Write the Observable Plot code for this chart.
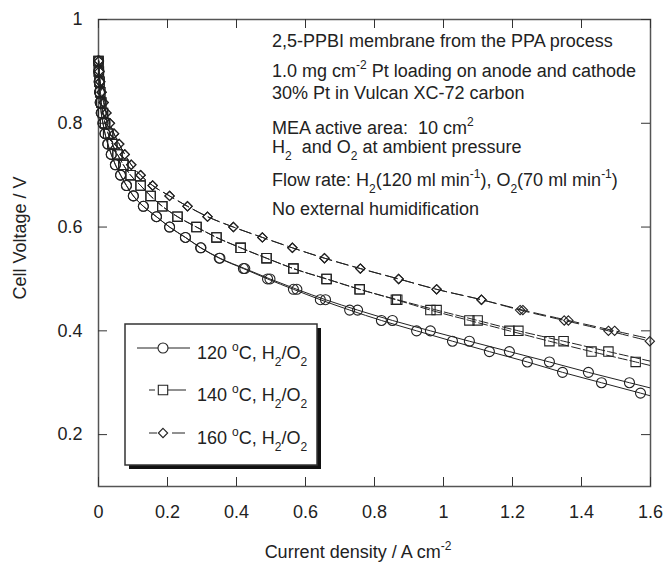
<!DOCTYPE html>
<html><head><meta charset="utf-8">
<script src="https://cdn.jsdelivr.net/npm/d3@7"></script>
<script src="https://cdn.jsdelivr.net/npm/@observablehq/plot@0.6"></script>
<style>
body{margin:0;background:#fff;}
#chart svg{display:block;}
</style></head><body><div id="chart"></div>
<script>
// ---- data ----
const voltage = [0.92,0.90,0.88,0.86,0.84,0.82,0.80,0.78,0.76,0.74,0.72,0.70,0.68,0.66,0.64,0.62,0.60,0.58,0.56,0.54,0.52,0.50,0.48,0.46,0.44,0.42,0.40,0.38,0.36,0.34,0.32,0.30,0.28,0.26];
const i120a = [0.000,0.001,0.002,0.003,0.005,0.008,0.013,0.019,0.027,0.037,0.049,0.064,0.081,0.101,0.130,0.168,0.206,0.252,0.297,0.352,0.424,0.497,0.575,0.658,0.751,0.852,0.962,1.075,1.191,1.307,1.420,1.539,1.660,null];
const i120b = [0.000,0.001,0.002,0.003,0.005,0.008,0.013,0.019,0.027,0.037,0.049,0.064,0.081,0.101,0.130,0.168,0.206,0.252,0.296,0.350,0.420,0.490,0.565,0.643,0.728,0.820,0.922,1.026,1.133,1.243,1.345,1.458,1.571,1.680];
const i140a = [0.000,0.001,0.003,0.005,0.008,0.013,0.019,0.028,0.040,0.055,0.072,0.093,0.122,0.151,0.185,0.229,0.284,0.342,0.412,0.487,0.565,0.661,0.757,0.866,0.980,1.099,1.217,1.348,1.478,1.610,null,null,null,null];
const i140b = [0.000,0.001,0.003,0.005,0.008,0.013,0.019,0.028,0.040,0.055,0.072,0.093,0.122,0.151,0.185,0.229,0.284,0.342,0.412,0.487,0.565,0.661,0.757,0.862,0.962,1.075,1.191,1.307,1.429,1.557,1.680,null,null,null];
const i160a = [0.001,0.002,0.005,0.009,0.015,0.023,0.033,0.045,0.060,0.076,0.095,0.122,0.157,0.206,0.258,0.316,0.391,0.475,0.562,0.655,0.759,0.870,0.980,1.110,1.230,1.362,1.496,1.630,null,null,null,null,null,null];
const i160b = [0.001,0.002,0.005,0.009,0.015,0.023,0.033,0.045,0.060,0.076,0.095,0.122,0.157,0.206,0.258,0.316,0.391,0.475,0.562,0.655,0.759,0.870,0.980,1.110,1.222,1.350,1.478,1.598,null,null,null,null,null,null];
const xTicks = [0,0.2,0.4,0.6,0.8,1,1.2,1.4,1.6];
const yTicks = [0.2,0.4,0.6,0.8,1];
const xTickLabels = ["0","0.2","0.4","0.6","0.8","1","1.2","1.4","1.6"];
const yTickLabels = ["0.2","0.4","0.6","0.8","1"];
const seriesNames = ["120a","120b","140a","140b","160a","160b"];
const seriesTemps = ["120","120","140","140","160","160"];
const legendTemps = ["120","140","160"];
const xTitle = [["Current density / A cm",""],["-2","sup"]];
const yTitle = "Cell Voltage / V";
const notes = [
  [["2,5-PPBI membrane from the PPA process",""]],
  [["1.0 mg cm",""],["-2","sup"],[" Pt loading on anode and cathode",""]],
  [["30% Pt in Vulcan XC-72 carbon",""]],
  [["MEA active area:  10 cm",""],["2","sup"]],
  [["H",""],["2","sub"],["  and O",""],["2","sub"],[" at ambient pressure",""]],
  [["Flow rate: H",""],["2","sub"],["(120 ml min",""],["-1","sup"],["), O",""],["2","sub"],["(70 ml min",""],["-1","sup"],[")",""]],
  [["No external humidification",""]]
];

// ---- table ----
const currents = [i120a,i120b,i140a,i140b,i160a,i160b];
const rows = [];
currents.forEach((arr, s) => arr.forEach((c, k) => {
  if (c != null) rows.push({series: seriesNames[s], temp: seriesTemps[s], x: c, y: voltage[k]});
}));
const dotRows = rows.filter(d => d.x <= 1.6);

// ---- styles ----
const W = 664, H = 565, mL = 98, mR = 14, mT = 19, mB = 79;
const fw = W - mL - mR, fh = H - mT - mB;
const ink = "#222";
const FS = 18;
const dash = {"120": null, "140": "9,3", "160": "12,5"};
const sym = {"120": "circle", "140": "square", "160": "diamond2"};
const symR = {"120": 5, "140": 5.3, "160": 4.2};
const FONT = "'Liberation Sans', Arial, Helvetica, sans-serif";

const marks = [
  Plot.frame({stroke: "#555", strokeWidth: 1.5}),
  Plot.tickX(xTicks, {x: d => d, insetTop: fh - 9, stroke: "#333"}),
  Plot.tickX(xTicks, {x: d => d, insetBottom: fh - 9, stroke: "#333"}),
  Plot.tickY(yTicks, {y: d => d, insetRight: fw - 9, stroke: "#333"}),
  Plot.tickY(yTicks, {y: d => d, insetLeft: fw - 9, stroke: "#333"}),
  Plot.axisX({ticks: xTicks, tickSize: 0, tickPadding: 19, label: null, tickFormat: d => xTickLabels[xTicks.indexOf(d)], fontSize: FS}),
  Plot.axisY({ticks: yTicks, tickSize: 0, tickPadding: 16, label: null, tickFormat: d => yTickLabels[yTicks.indexOf(d)], fontSize: FS})
];
seriesNames.forEach((s, j) => {
  const t = seriesTemps[j];
  marks.push(Plot.line(rows.filter(d => d.series === s), {
    x: "x", y: "y", curve: "monotone-x", stroke: ink, strokeWidth: 1,
    strokeDasharray: dash[t], clip: true
  }));
});
["120","140","160"].forEach(t => {
  marks.push(Plot.dot(dotRows.filter(d => d.temp === t), {
    x: "x", y: "y", symbol: sym[t], r: symR[t], fill: "none", stroke: ink, strokeWidth: 1.1
  }));
});

const plot = Plot.plot({
  width: W, height: H, marginLeft: mL, marginRight: mR, marginTop: mT, marginBottom: mB,
  style: {fontFamily: FONT, fontSize: FS + "px", color: ink, background: "#fff"},
  x: {domain: [0, 1.6]}, y: {domain: [0.1, 1]},
  marks
});
document.getElementById("chart").appendChild(plot);

// ---- text helpers ----
const svg = d3.select(plot);
function richText(g, segs, x, y, anchor, size) {
  const t = g.append("text").attr("x", x).attr("y", y).attr("text-anchor", anchor || "start")
    .attr("font-family", FONT).attr("font-size", size).attr("fill", ink);
  let shift = 0;
  segs.forEach(([txt, kind]) => {
    const target = kind === "sup" ? -8 : kind === "sub" ? 7 : 0;
    t.append("tspan").attr("dy", target - shift).attr("font-size", kind ? 12 : size).text(txt);
    shift = target;
  });
  return t;
}
// annotations
const noteY = [47, 77, 99, 134, 153, 186, 215];
notes.forEach((segs, k) => richText(svg, segs, 272, noteY[k], "start", FS));
// axis titles
richText(svg, xTitle, 358, 558, "middle", FS);
svg.append("text").attr("transform", "translate(26,238) rotate(-90)").attr("text-anchor", "middle")
  .attr("font-family", FONT).attr("font-size", FS).attr("fill", ink).text(yTitle);

// ---- legend ----
const lg = svg.append("g");
lg.append("rect").attr("x", 129).attr("y", 328).attr("width", 192).attr("height", 141).attr("fill", "#111");
lg.append("rect").attr("x", 125).attr("y", 324).attr("width", 192).attr("height", 141).attr("fill", "#fff").attr("stroke", "#333").attr("stroke-width", 1.5);
const rowY = [348, 390, 433];
const segsByTemp = {"120": [[137,190]], "140": [[149,155],[168,186]], "160": [[149,157],[172,185]]};
const d3sym = {"120": d3.symbolCircle, "140": d3.symbolSquare, "160": d3.symbolDiamond2};
legendTemps.forEach((t, k) => {
  const y = rowY[k];
  segsByTemp[t].forEach(([a, b]) => lg.append("line").attr("x1", a).attr("x2", b).attr("y1", y).attr("y2", y).attr("stroke", ink).attr("stroke-width", 1));
  lg.append("path").attr("transform", `translate(163,${y})`)
    .attr("d", d3.symbol(d3sym[t], Math.PI * symR[t] * symR[t])())
    .attr("fill", "#fff").attr("stroke", ink).attr("stroke-width", 1.1);
  richText(lg, [[t + " ", ""], ["o", "sup"], ["C, H", ""], ["2", "sub"], ["/O", ""], ["2", "sub"]], 197, y + 11, "start", FS);
});
</script></body></html>
